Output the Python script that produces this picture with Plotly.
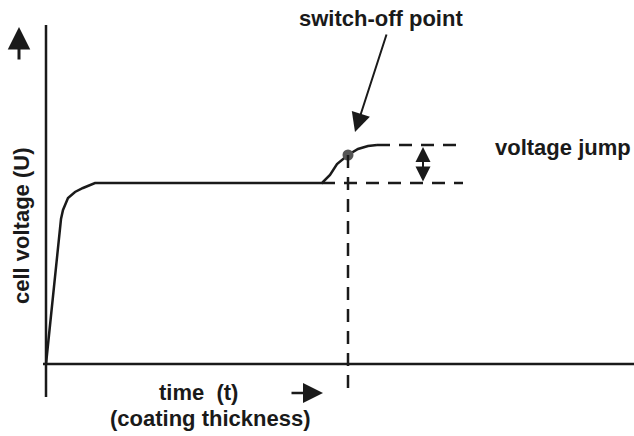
import plotly.graph_objects as go

# schematic data (arbitrary units)
time = [0, 15, 17, 22, 29, 37, 49, 276, 284, 291, 302, 312, 322, 331]
voltage = [0, 145, 154, 166, 172, 176, 181, 181, 189, 200, 209, 215, 218, 219]
switch_off_t = 302
switch_off_u = 209
u_plateau = 181
u_final = 219
jump_t = 377

FONT = "Liberation Sans, Arial, sans-serif"
INK = "#1a1a1a"

fig = go.Figure()

# axes drawn as lines
fig.add_shape(type="line", x0=-3, x1=588, y0=0, y1=0, line=dict(color=INK, width=2.5))
fig.add_shape(type="line", x0=0, x1=0, y0=-33, y1=339, line=dict(color=INK, width=2.5))

# dashed helper lines
dash = "13px,9px"
fig.add_shape(type="line", x0=time[-1], x1=411, y0=u_final, y1=u_final,
              line=dict(color=INK, width=2.5, dash=dash))
fig.add_shape(type="line", x0=time[7], x1=417, y0=u_plateau, y1=u_plateau,
              line=dict(color=INK, width=2.5, dash=dash))
fig.add_shape(type="line", x0=switch_off_t, x1=switch_off_t, y0=switch_off_u, y1=-31,
              line=dict(color=INK, width=2.5, dash=dash))

# curve
fig.add_trace(go.Scatter(x=time, y=voltage, mode="lines",
                         line=dict(color=INK, width=2.5), hoverinfo="skip"))
# switch-off point
fig.add_trace(go.Scatter(x=[switch_off_t], y=[switch_off_u], mode="markers",
                         marker=dict(color="#555555", size=11), hoverinfo="skip"))

ann = []
def arrow(x, y, ax, ay, both=False, w=2.5, s=1.1):
    d = dict(x=x, y=y, ax=ax, ay=ay, xref="x", yref="y", axref="x", ayref="y",
             text="", showarrow=True, arrowhead=2, arrowsize=s, arrowwidth=w,
             arrowcolor=INK)
    if both:
        d.update(arrowside="end+start", startarrowhead=2, startarrowsize=s)
    ann.append(d)

arrow(-27, 337, -27, 303, w=3, s=1.5)         # up arrow
arrow(277, -29, 244, -29, w=2.5, s=1.6)       # right arrow
arrow(309, 232, 341, 331, w=2, s=1.9)         # switch-off arrow
arrow(jump_t, u_final - 2, jump_t, u_plateau, both=True, w=2, s=1.5)

def label(text, x, y, xanchor="center", angle=0):
    ann.append(dict(x=x, y=y, xref="x", yref="y", text=text, showarrow=False,
                    xanchor=xanchor, yanchor="middle", textangle=angle,
                    font=dict(family=FONT, size=22, color=INK)))

label("<b>switch-off point</b>", 335, 346)
label("<b>voltage jump</b>", 447, 217, xanchor="left")
label("<b>time\u00a0 (t)</b>", 152, -28)
label("<b>(coating thickness)</b>", 164, -54)
label("<b>cell voltage (U)</b>", -25, 138, angle=-90)

fig.update_layout(
    width=634, height=436, margin=dict(l=0, r=0, t=0, b=0),
    paper_bgcolor="white", plot_bgcolor="white", showlegend=False,
    xaxis=dict(range=[-46, 588], visible=False, fixedrange=True),
    yaxis=dict(range=[-72, 364], visible=False, fixedrange=True),
    annotations=ann,
)

fig.write_html("out.html", config={"displayModeBar": False},
               post_script="document.body.style.margin='0';document.body.style.overflow='hidden';")
